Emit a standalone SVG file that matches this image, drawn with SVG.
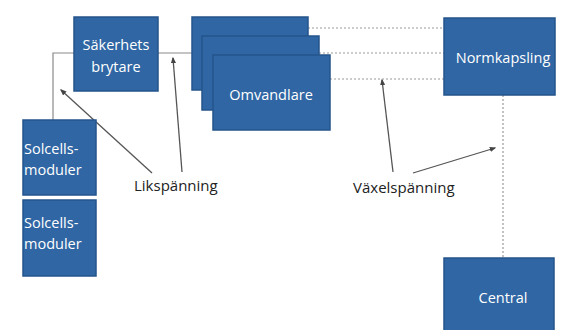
<svg xmlns="http://www.w3.org/2000/svg" width="571" height="330" viewBox="0 0 571 330">
<defs>
<style>
.box{fill:#2f66a3;stroke:#24548c;stroke-width:1.5}
.bt{fill:#ffffff;font-family:"Open Sans","Liberation Sans",sans-serif;font-size:14.5px}
.lbl{fill:#222;font-family:"Open Sans","Liberation Sans",sans-serif;font-size:15px}
.solid{stroke:#8a8a8a;stroke-width:1.2;fill:none}
.dot{stroke:#9a9a9a;stroke-width:1.2;fill:none;stroke-dasharray:2 2}
.arr{stroke:#555;stroke-width:1.3;fill:none;marker-end:url(#ah)}
</style>
<marker id="ah" viewBox="0 0 10 10" refX="8" refY="5" markerWidth="5" markerHeight="5" orient="auto">
<path d="M0,1 L10,5 L0,9 z" fill="#444"/>
</marker>
</defs>
<rect width="571" height="330" fill="#ffffff"/>
<g id="connectors">
<path class="solid" d="M53,120 V53 H74"/>
<path class="solid" d="M158,53 H202"/>
<path class="dot" d="M308,28 H444"/>
<path class="dot" d="M319,53 H444"/>
<path class="dot" d="M330,79 H444"/>
<path class="dot" d="M503,95 V258"/>
<line class="arr" x1="152" y1="173" x2="61" y2="90"/>
<line class="arr" x1="182" y1="172" x2="173" y2="58"/>
<line class="arr" x1="393" y1="172" x2="382" y2="80"/>
<line class="arr" x1="413" y1="173" x2="495" y2="148"/>
</g>
<g id="sakerhetsbrytare">
<rect class="box" x="74" y="17" width="84" height="74"/>
<text class="bt" x="116" y="50" text-anchor="middle">Säkerhets</text>
<text class="bt" x="116" y="72" text-anchor="middle">brytare</text>
</g>
<g id="omvandlare">
<rect class="box" x="192" y="17" width="116" height="73"/>
<rect class="box" x="202" y="36" width="117" height="74"/>
<rect class="box" x="213" y="55" width="117" height="75"/>
<text class="bt" x="271" y="100" text-anchor="middle">Omvandlare</text>
</g>
<g id="normkapsling">
<rect class="box" x="444" y="18" width="111" height="77"/>
<text class="bt" x="503" y="63" text-anchor="middle">Normkapsling</text>
</g>
<g id="central">
<rect class="box" x="444" y="258" width="110" height="80"/>
<text class="bt" x="503" y="303" text-anchor="middle">Central</text>
</g>
<g id="solcells1">
<rect class="box" x="23" y="120" width="73" height="75"/>
<text class="bt" x="24" y="154">Solcells-</text>
<text class="bt" x="24" y="175">moduler</text>
</g>
<g id="solcells2">
<rect class="box" x="23" y="200" width="73" height="76"/>
<text class="bt" x="24" y="228">Solcells-</text>
<text class="bt" x="24" y="249">moduler</text>
</g>
<g id="labels">
<text class="lbl" x="134" y="191">Likspänning</text>
<text class="lbl" x="353" y="193">Växelspänning</text>
</g>
</svg>
